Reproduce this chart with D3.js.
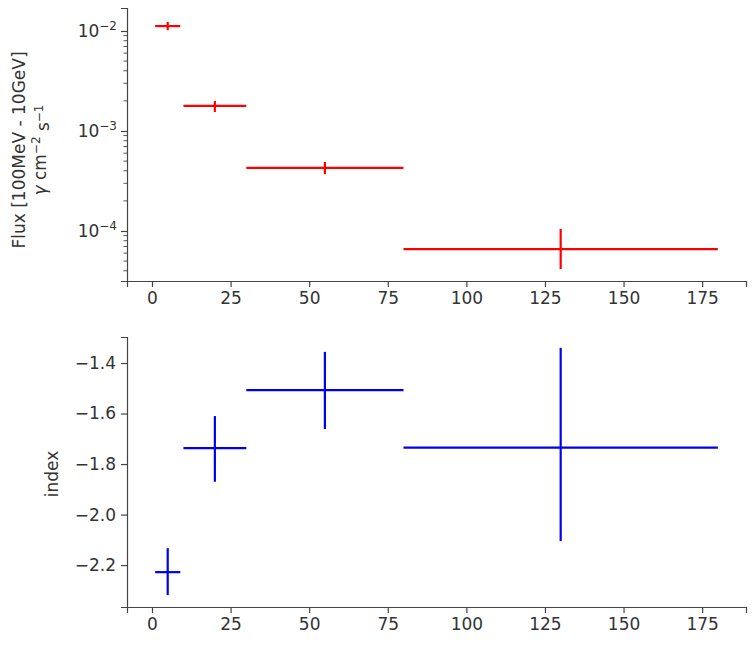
<!DOCTYPE html>
<html><head><meta charset="utf-8">
<script src="https://cdn.jsdelivr.net/npm/d3@7"></script>
<style>body{margin:0;background:#fff}text{font-family:"DejaVu Sans",sans-serif}</style>
</head><body><svg id="c" width="756" height="647"></svg>
<script>
const xCenters=[5,20,55,130];
const xErr=[4,10,25,50];
const flux=[0.0112,0.00178,0.000427,0.000066];
const fluxLo=[0.0102,0.00155,0.000370,0.0000417];
const fluxHi=[0.0123,0.00200,0.000490,0.000105];
const index=[-2.228,-1.737,-1.507,-1.735];
const indexLo=[-2.319,-1.87,-1.661,-2.105];
const indexHi=[-2.133,-1.61,-1.356,-1.34];
const xTicks=[0,25,50,75,100,125,150,175];

const svg=d3.select("#c");
const L=127,R=746;
const x=d3.scaleLinear().domain([-7.95,188.95]).range([L,R]);
const axCol="#444",txtCol="#333";

function styleAxis(g){
  g.select(".domain").attr("stroke",axCol).attr("stroke-width",1.2);
  g.selectAll(".tick line").attr("stroke",axCol).attr("stroke-width",1.2);
  g.selectAll(".tick text").attr("fill",txtCol).attr("font-size",17);
}

function panel(top,bottom,y,lo,hi,vals,color,yAxisFn){
  const gx=svg.append("g").attr("transform",`translate(0,${bottom})`)
    .call(d3.axisBottom(x).tickValues(xTicks).tickSize(6).tickPadding(5));
  styleAxis(gx);
  const gy=svg.append("g").attr("transform",`translate(${L},0)`);
  yAxisFn(gy);
  const g=svg.append("g").attr("stroke",color).attr("stroke-width",2.2);
  xCenters.forEach((c,i)=>{
    g.append("line").attr("x1",x(c-xErr[i])).attr("x2",x(c+xErr[i])).attr("y1",y(vals[i])).attr("y2",y(vals[i]));
    g.append("line").attr("x1",x(c)).attr("x2",x(c)).attr("y1",y(lo[i])).attr("y2",y(hi[i]));
  });
}

// top
const yT=d3.scaleLog().domain([10**-4.5,10**-1.77]).range([281,8]);
panel(8,281,yT,fluxLo,fluxHi,flux,"#ff0000",gy=>{
  gy.call(d3.axisLeft(yT).tickValues([1e-4,1e-3,1e-2]).tickFormat("").tickSize(6));
  styleAxis(gy);
  gy.selectAll(".tick").each(function(d){
    const e=Math.round(Math.log10(d));
    const t=d3.select(this).append("text").attr("x",-10).attr("dy","0.35em").attr("text-anchor","end").attr("fill",txtCol).attr("font-size",17);
    t.append("tspan").text("10");
    t.append("tspan").attr("dy","-0.6em").attr("font-size",12).text("−"+Math.abs(e));
  });
  const minor=[];
  for(let p=-5;p<=-2;p++)for(let k=2;k<=9;k++){const v=k*10**p;if(v>=yT.domain()[0]&&v<=yT.domain()[1])minor.push(v);}
  gy.selectAll(".mn").data(minor).enter().append("line").attr("x1",0).attr("x2",-3.5)
    .attr("y1",d=>yT(d)).attr("y2",d=>yT(d)).attr("stroke",axCol).attr("stroke-width",0.9);
});
const tl=svg.append("text").attr("transform","translate(25,150) rotate(-90)").attr("text-anchor","middle").attr("fill",txtCol).attr("font-size",17);
tl.append("tspan").attr("x",0).attr("dy","0").text("Flux [100MeV - 10GeV]");
const t2=tl.append("tspan").attr("x",0).attr("dy","1.25em");
t2.append("tspan").attr("font-style","italic").text("γ");
t2.append("tspan").text(" cm");
t2.append("tspan").attr("dy","-0.5em").attr("font-size",12).text("−2");
t2.append("tspan").attr("dy","0.5em").text(" s");
t2.append("tspan").attr("dy","-0.5em").attr("font-size",12).text("−1");

// bottom
const yB=d3.scaleLinear().domain([-2.366,-1.297]).range([607,337]);
panel(337,607,yB,indexLo,indexHi,index,"#0000ee",gy=>{
  gy.call(d3.axisLeft(yB).tickValues([-2.2,-2.0,-1.8,-1.6,-1.4]).tickFormat(d=>d3.format(".1f")(d).replace("-","−")).tickSize(6).tickPadding(5));
  styleAxis(gy);
});
svg.append("text").attr("transform","translate(58,474) rotate(-90)").attr("text-anchor","middle").attr("fill",txtCol).attr("font-size",17).text("index");
</script></body></html>
